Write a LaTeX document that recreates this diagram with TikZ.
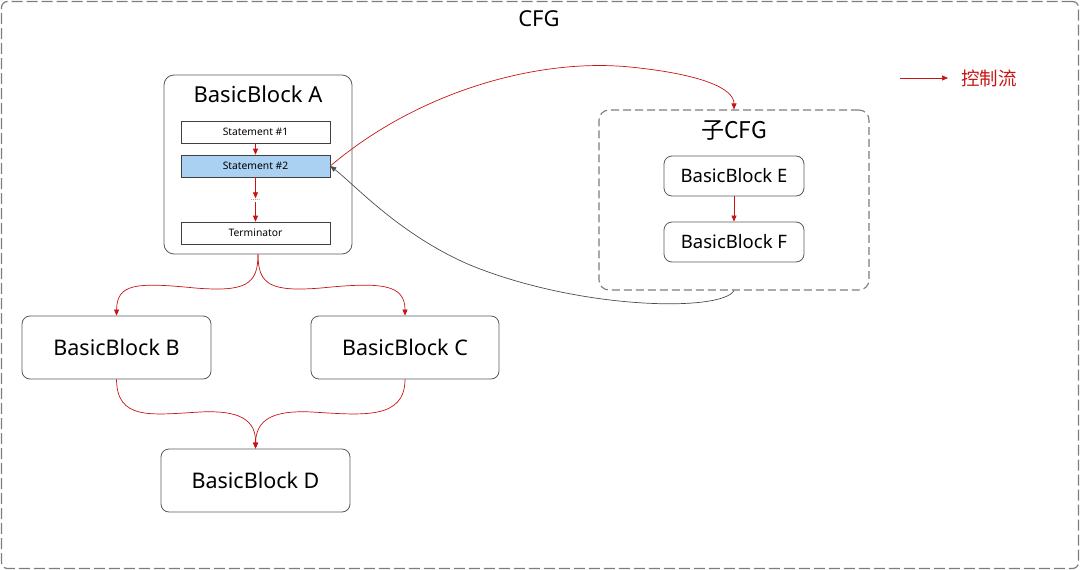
\documentclass[tikz,border=0pt]{standalone}
\usepackage{fontspec}
\setmainfont{Noto Sans}
\newfontfamily\cjk{Noto Sans CJK SC}
\usetikzlibrary{arrows.meta}
\definecolor{flowred}{RGB}{200,20,20}
\definecolor{boxgray}{RGB}{90,90,90}
\definecolor{dashgray}{RGB}{125,125,125}
\definecolor{stblue}{RGB}{170,208,242}
\begin{document}
\begin{tikzpicture}[x=1pt,y=-1pt,
  block/.style={draw=boxgray,line width=0.8pt,rounded corners=8pt,inner sep=0pt,font=\fontsize{21.5}{24}\selectfont},
  stmt/.style={draw=black!75,line width=0.6pt,minimum width=149pt,minimum height=22pt,inner sep=0pt,font=\fontsize{10.3}{12}\selectfont},
  flow/.style={flowred,line width=0.7pt,-{Triangle[length=6pt,width=5pt]}},
  back/.style={black!70,line width=0.7pt,-{Triangle[length=6pt,width=5pt]}}
]
\useasboundingbox (0,0) rectangle (1080,570);
% outer CFG box
\node[draw=dashgray,line width=1.2pt,dash pattern=on 11pt off 4pt,rounded corners=6pt,minimum width=1077pt,minimum height=567pt,inner sep=0pt] (cfg) at (540,285) {};
\node[font=\fontsize{22}{26}\selectfont] (cfgt) at (539,19) {CFG};
% legend
\coordinate (lg1) at (900,78);
\coordinate (lg2) at (948,78);
\draw[flow] (lg1) -- (lg2);
\node[text=flowred,font=\cjk\fontsize{18.5}{22}\selectfont] (lgt) at (989,78) {控制流};
% block A
\node[block,rounded corners=10pt,minimum width=188pt,minimum height=179pt] (A) at (258,164.5) {};
\node[font=\fontsize{22}{26}\selectfont] (At) at (258,94) {BasicBlock A};
\node[stmt] (s1) at (255.5,132) {Statement \#1};
\node[stmt,fill=stblue] (s2) at (255.5,166) {Statement \#2};
\node[font=\fontsize{7}{8}\selectfont,text=black!60,inner sep=1pt] (dots) at (255.5,200) {.....};
\node[stmt] (term) at (255.5,233) {Terminator};
\draw[flow] (s1.south) -- (s2.north);
\draw[flow] (s2.south) -- (dots.north);
\draw[flow] (dots.south) -- (term.north);
% B, C, D
\node[block,minimum width=189pt,minimum height=63pt] (B) at (116.5,347.5) {BasicBlock B};
\node[block,minimum width=188pt,minimum height=63pt] (C) at (405,347.5) {BasicBlock C};
\node[block,minimum width=189pt,minimum height=63pt] (D) at (255.5,480.5) {BasicBlock D};
% sub CFG
\node[draw=dashgray,line width=1.1pt,dash pattern=on 8pt off 4pt,rounded corners=10pt,minimum width=270pt,minimum height=180pt,inner sep=0pt] (sub) at (734,200) {};
\node[font=\cjk\fontsize{23}{26}\selectfont] (subt) at (734,130) {子CFG};
\node[block,font=\fontsize{18.5}{22}\selectfont,minimum width=140pt,minimum height=40pt] (E) at (734,176) {BasicBlock E};
\node[block,font=\fontsize{18.5}{22}\selectfont,minimum width=140pt,minimum height=40pt] (F) at (734,242) {BasicBlock F};
\draw[flow] (E.south) -- (F.north);
% A -> B, A -> C
\draw[flow] (A.south) .. controls (258,285) and (245,292) .. (195,288) .. controls (135,282) and (117,284) .. (B.north);
\draw[flow] (A.south) .. controls (258,285) and (271,292) .. (321,288) .. controls (381,282) and (405,284) .. (C.north);
% B -> D, C -> D
\draw[flow] (B.south) .. controls (117,420) and (150,415) .. (200,412) .. controls (240,410) and (256,420) .. (D.north);
\draw[flow] (C.south) .. controls (405,420) and (362,415) .. (312,412) .. controls (272,410) and (256,420) .. (D.north);
% Statement #2 -> sub CFG
\draw[flow] (s2.east) .. controls (420,90) and (540,58) .. (630,67) .. controls (700,74) and (734,88) .. (sub.north);
% sub CFG -> Statement #2
\draw[back] (sub.south) .. controls (722,312) and (580,310) .. (470,265) .. controls (400,235) and (355,185) .. (s2.east);
\end{tikzpicture}
\end{document}
